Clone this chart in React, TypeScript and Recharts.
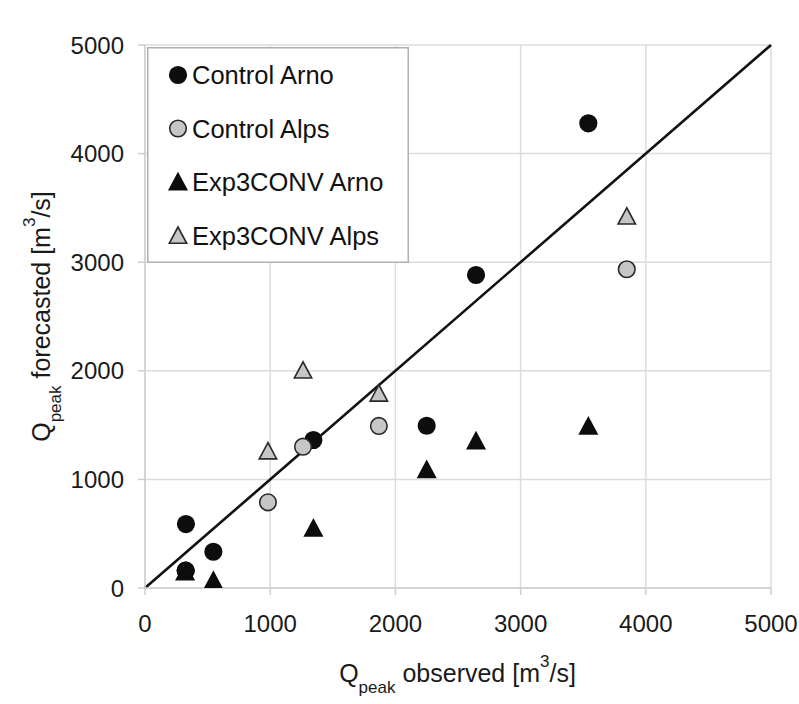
import React from "react";
import {
  ScatterChart,
  Scatter,
  XAxis,
  YAxis,
  CartesianGrid,
  ReferenceLine,
  Label,
} from "recharts";

const axisTicks = [0, 1000, 2000, 3000, 4000, 5000];

const controlArno = [
  { x: 325, y: 160 },
  { x: 327, y: 589 },
  { x: 546, y: 334 },
  { x: 1345, y: 1363 },
  { x: 2250, y: 1494 },
  { x: 2644, y: 2882 },
  { x: 3541, y: 4279 },
];

const controlAlps = [
  { x: 982, y: 789 },
  { x: 1262, y: 1301 },
  { x: 1868, y: 1492 },
  { x: 3848, y: 2935 },
];

const exp3Arno = [
  { x: 320, y: 148 },
  { x: 546, y: 69 },
  { x: 1345, y: 550 },
  { x: 2250, y: 1089 },
  { x: 2644, y: 1355 },
  { x: 3541, y: 1490 },
];

const exp3Alps = [
  { x: 982, y: 1261 },
  { x: 1262, y: 2005 },
  { x: 1868, y: 1793 },
  { x: 3848, y: 3423 },
];

const seriesNames = ["Control Arno", "Control Alps", "Exp3CONV Arno", "Exp3CONV Alps"];
const identityLine = [
  { x: 0, y: 0 },
  { x: 5000, y: 5000 },
];

const BLACK = "#0d0d0d";
const GRAY = "#c6c6c6";
const OUTLINE = "#2a2a2a";
const FONT = "'Liberation Sans', Arial, sans-serif";

const Circle = (fill: string, stroke: string) => (props: any) => {
  const { cx, cy } = props;
  if (cx == null || cy == null) return <g />;
  return <circle cx={cx} cy={cy} r={8.3} fill={fill} stroke={stroke} strokeWidth={1.6} />;
};

const Tri = (fill: string, stroke: string) => (props: any) => {
  const { cx, cy } = props;
  if (cx == null || cy == null) return <g />;
  const pts = `${cx},${cy - 8.5} ${cx - 8.7},${cy + 7.8} ${cx + 8.7},${cy + 7.8}`;
  return <polygon points={pts} fill={fill} stroke={stroke} strokeWidth={1.6} strokeLinejoin="miter" />;
};

const markerFor = (i: number, cx: number, cy: number) => {
  const fills = [BLACK, GRAY, BLACK, GRAY];
  const strokes = [BLACK, OUTLINE, BLACK, OUTLINE];
  if (i < 2) return <circle cx={cx} cy={cy} r={8.3} fill={fills[i]} stroke={strokes[i]} strokeWidth={1.6} />;
  const pts = `${cx},${cy - 8.5} ${cx - 8.7},${cy + 7.8} ${cx + 8.7},${cy + 7.8}`;
  return <polygon points={pts} fill={fills[i]} stroke={strokes[i]} strokeWidth={1.6} />;
};

const LegendBox = () => (
  <svg width={262} height={216} style={{ display: "block" }}>
    <rect x={0.75} y={0.75} width={260.5} height={214.5} fill="#ffffff" stroke="#b0b0b0" strokeWidth={1.5} />
    {seriesNames.map((n, i) => {
      const cy = 28 + i * 53.5;
      return (
        <g key={n}>
          {markerFor(i, 31, cy)}
          <text x={45} y={cy + 9} fontSize={25.5} fontFamily={FONT} fill="#111">
            {n}
          </text>
        </g>
      );
    })}
  </svg>
);

const XLabel = () => (
  <text x={457.5} y={682} textAnchor="middle" fontSize={25} fontFamily={FONT} fill="#1a1a1a">
    <tspan>Q</tspan>
    <tspan fontSize={17} dy={11}>peak</tspan>
    <tspan dy={-11}> observed [m</tspan>
    <tspan fontSize={17} dy={-15}>3</tspan>
    <tspan dy={15}>/s]</tspan>
  </text>
);

const YLabel = () => (
  <text
    x={50}
    y={316.5}
    textAnchor="middle"
    fontSize={25}
    fontFamily={FONT}
    fill="#1a1a1a"
    transform="rotate(-90, 50, 316.5)"
  >
    <tspan>Q</tspan>
    <tspan fontSize={17} dy={11}>peak</tspan>
    <tspan dy={-11}> forecasted [m</tspan>
    <tspan fontSize={17} dy={-15}>3</tspan>
    <tspan dy={15}>/s]</tspan>
  </text>
);

const tickStyle = { fontSize: 24, fontFamily: FONT, fill: "#1a1a1a" };

export default function App() {
  return (
    <div style={{ position: "relative", width: 799, height: 704 }}>
      <style>{`body{margin:0;overflow:hidden} .recharts-surface{overflow:visible}`}</style>
      <ScatterChart width={799} height={704} margin={{ top: 45, right: 28, left: 0, bottom: 0 }}>
        <CartesianGrid stroke="#dcdcdc" strokeWidth={1.5} />
        <XAxis
          type="number"
          dataKey="x"
          domain={[0, 5000]}
          ticks={axisTicks}
          interval={0}
          height={116}
          tickSize={7}
          tickMargin={20}
          stroke="#cfcfcf"
          strokeWidth={1.5}
          tick={tickStyle}
          tickLine={{ stroke: "#cfcfcf", strokeWidth: 1.5 }}
          allowDataOverflow
        >
          <Label content={() => <XLabel />} />
        </XAxis>
        <YAxis
          type="number"
          dataKey="y"
          domain={[0, 5000]}
          ticks={axisTicks}
          interval={0}
          width={145}
          tickSize={7}
          tickMargin={14}
          stroke="#cfcfcf"
          strokeWidth={1.5}
          tick={tickStyle}
          tickLine={{ stroke: "#cfcfcf", strokeWidth: 1.5 }}
          allowDataOverflow
        >
          <Label content={() => <YLabel />} />
        </YAxis>
        <ReferenceLine segment={identityLine} stroke="#111" strokeWidth={2.6} ifOverflow="visible" />
        <Scatter name={seriesNames[0]} data={controlArno} shape={Circle(BLACK, BLACK)} isAnimationActive={false} />
        <Scatter name={seriesNames[2]} data={exp3Arno} shape={Tri(BLACK, BLACK)} isAnimationActive={false} />
        <Scatter name={seriesNames[0] + " top"} data={controlArno.slice(0, 1)} shape={Circle(BLACK, BLACK)} isAnimationActive={false} legendType="none" />
        <Scatter name={seriesNames[1]} data={controlAlps} shape={Circle(GRAY, OUTLINE)} isAnimationActive={false} />
        <Scatter name={seriesNames[3]} data={exp3Alps} shape={Tri(GRAY, OUTLINE)} isAnimationActive={false} />
      </ScatterChart>
      <div style={{ position: "absolute", left: 147, top: 47 }}>
        <LegendBox />
      </div>
    </div>
  );
}
